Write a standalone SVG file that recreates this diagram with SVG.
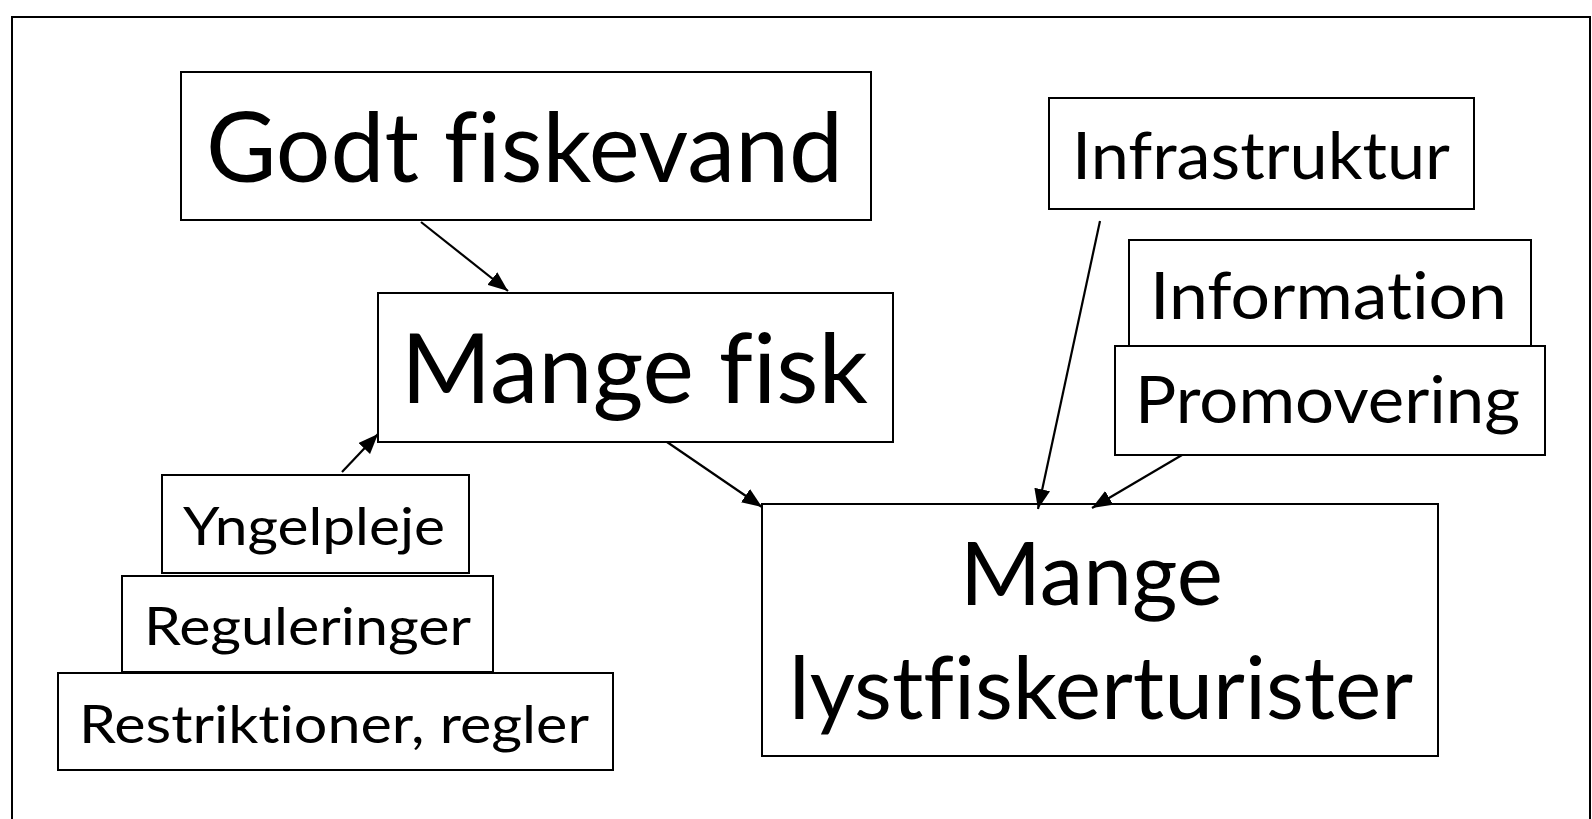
<svg xmlns="http://www.w3.org/2000/svg" width="1592" height="819" viewBox="0 0 1592 819">
<style>
.box{fill:#fff;stroke:#000;stroke-width:2}
.t{font-family:Lato,"Liberation Sans",sans-serif;fill:#000;font-variant-ligatures:none;font-feature-settings:"liga" 0,"clig" 0}
.c{stroke:#000;stroke-width:2.2;fill:none;marker-end:url(#ah)}
</style>
<defs>
<marker id="ah" markerUnits="userSpaceOnUse" markerWidth="22" markerHeight="16" refX="20" refY="8" orient="auto">
<path d="M0,0 L20,8 L0,16 z" fill="#000"/>
</marker>
</defs>
<rect x="0" y="0" width="1592" height="819" fill="#fff"/>
<path d="M12,830 L12,17 L1590,17 L1590,830" fill="none" stroke="#000" stroke-width="2"/>
<g id="godt"><rect class="box" x="181" y="72" width="690" height="148"/><text class="t" x="206" y="182" font-size="97" textLength="637" lengthAdjust="spacingAndGlyphs">Godt fiskevand</text></g>
<g id="mangefisk"><rect class="box" x="378" y="293" width="515" height="149"/><text class="t" x="401" y="403" font-size="97" textLength="467" lengthAdjust="spacingAndGlyphs">Mange fisk</text></g>
<g id="infra"><rect class="box" x="1049" y="98" width="425" height="111"/><text class="t" x="1072" y="179" font-size="66" textLength="378" lengthAdjust="spacingAndGlyphs">Infrastruktur</text></g>
<g id="information"><rect class="box" x="1129" y="240" width="402" height="109"/><text class="t" x="1150" y="319" font-size="66" textLength="357" lengthAdjust="spacingAndGlyphs">Information</text></g>
<g id="promovering"><rect class="box" x="1115" y="346" width="430" height="109"/><text class="t" x="1135" y="423" font-size="66" textLength="385" lengthAdjust="spacingAndGlyphs">Promovering</text></g>
<g id="turister"><rect class="box" x="762" y="504" width="676" height="252"/><text class="t" x="960" y="605" font-size="87" textLength="263" lengthAdjust="spacingAndGlyphs">Mange</text><text class="t" x="789" y="719" font-size="87" textLength="624" lengthAdjust="spacingAndGlyphs">lystfiskerturister</text></g>
<g id="yngel"><rect class="box" x="162" y="475" width="307" height="98"/><text class="t" x="183" y="545" font-size="53" textLength="262" lengthAdjust="spacingAndGlyphs">Yngelpleje</text></g>
<g id="regul"><rect class="box" x="122" y="576" width="371" height="96"/><text class="t" x="144" y="645" font-size="53" textLength="327" lengthAdjust="spacingAndGlyphs">Reguleringer</text></g>
<g id="restrik"><rect class="box" x="58" y="673" width="555" height="97"/><text class="t" x="79" y="743" font-size="53" textLength="510" lengthAdjust="spacingAndGlyphs">Restriktioner, regler</text></g>
<g id="connectors">
<line class="c" x1="421" y1="222" x2="508" y2="291"/>
<line class="c" x1="342" y1="472" x2="378" y2="434"/>
<line class="c" x1="667" y1="442" x2="762" y2="507"/>
<line class="c" x1="1100" y1="221" x2="1038" y2="509"/>
<line class="c" x1="1182" y1="455" x2="1092" y2="508"/>
</g>
</svg>
